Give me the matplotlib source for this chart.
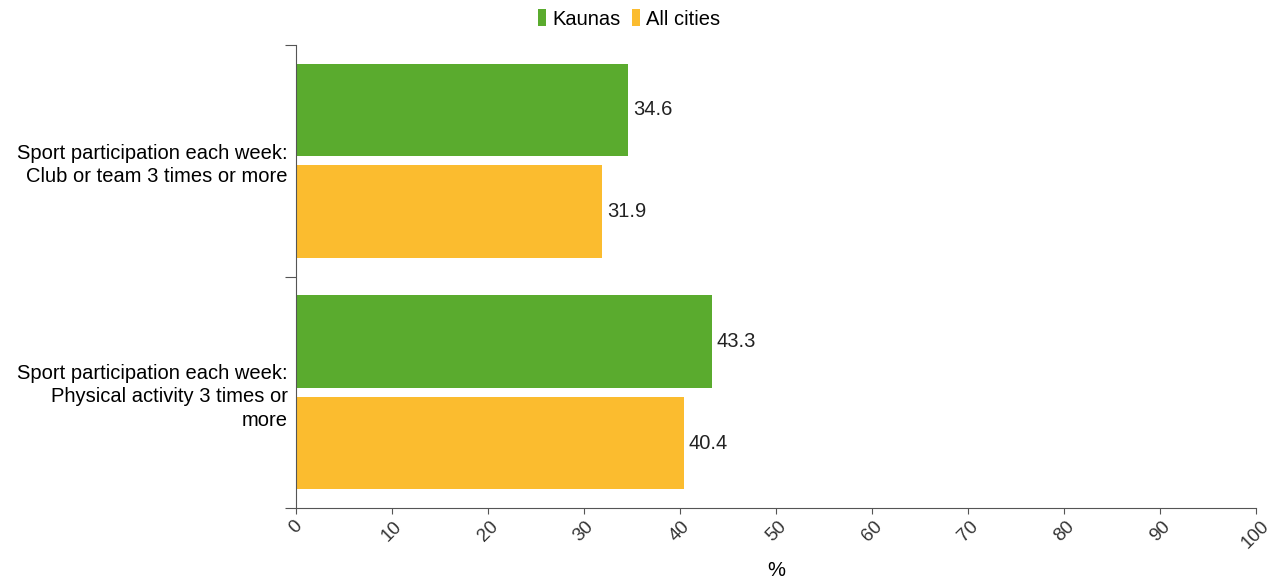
import numpy as np
import matplotlib.pyplot as plt

plt.rcParams['font.family'] = ['Liberation Sans', 'DejaVu Sans']

categories = ['Sport participation each week:\nClub or team 3 times or more',
              'Sport participation each week:\nPhysical activity 3 times or\nmore']
kaunas = [34.6, 43.3]
all_cities = [31.9, 40.4]
xticks = [0, 10, 20, 30, 40, 50, 60, 70, 80, 90, 100]

green = '#5aab2e'
yellow = '#fbbc2f'
fs = 14.5

fig = plt.figure(figsize=(12.71, 5.79), dpi=100)
ax = fig.add_axes([0.2329, 0.1226, 0.7553, 0.7997])

centers = np.arange(len(categories)) + 0.5
h = 0.40
ax.barh(centers - 0.22, kaunas, height=h, color=green, label='Kaunas')
ax.barh(centers + 0.22, all_cities, height=h, color=yellow, label='All cities')

for c, v in zip(centers - 0.22, kaunas):
    ax.text(v + 0.5, c, f'{v:.1f}', va='center', ha='left', fontsize=fs, color='#222222')
for c, v in zip(centers + 0.22, all_cities):
    ax.text(v + 0.5, c, f'{v:.1f}', va='center', ha='left', fontsize=fs, color='#222222')

ax.set_xlim(0, 100)
ax.set_ylim(2, 0)
ax.set_xticks(xticks)
ax.set_xticklabels([str(t) for t in xticks], rotation=45, ha='center', fontsize=13.5, color='#333333')
ax.tick_params(axis='x', length=4, color='#555555', pad=3)

ax.set_yticks([0, 1, 2])
ax.set_yticklabels([])
ax.tick_params(axis='y', which='major', length=8, color='#555555')
ax.set_yticks(centers, minor=True)
ax.set_yticklabels(categories, minor=True, fontsize=fs, ha='right', linespacing=1.3)
ax.tick_params(axis='y', which='minor', length=0, pad=6)

for s in ['top', 'right']:
    ax.spines[s].set_visible(False)
for s in ['left', 'bottom']:
    ax.spines[s].set_color('#555555')

ax.set_xlabel('%', fontsize=fs)
ax.xaxis.set_label_coords(0.5, -0.115)

fig.legend(loc='upper center', bbox_to_anchor=(0.495, 1.015), ncol=2, frameon=False,
           fontsize=fs, handlelength=0.4, handleheight=0.9, handletextpad=0.3,
           columnspacing=0.6)

plt.savefig('out.png', dpi=100)
